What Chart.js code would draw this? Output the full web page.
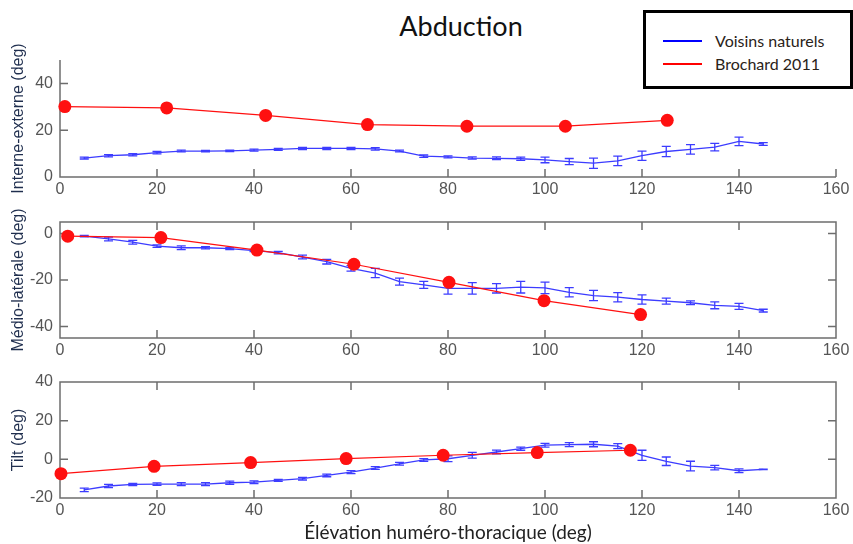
<!DOCTYPE html>
<html lang="fr">
<head>
<meta charset="UTF-8">
<title>Abduction</title>
<script src="https://cdn.jsdelivr.net/npm/chart.js@4"></script>
<style>
  body { margin:0; background:#fff; width:853px; height:544px; position:relative; overflow:hidden; }
  canvas { position:absolute; left:0; }
  #titre { position:absolute; left:361px; top:9px; width:200px; text-align:center; font:27px Lato; color:#111; line-height:34px; }
  #legende { position:absolute; left:643px; top:10px; width:204px; height:73px; border:3px solid #000; background:#fff; font:16px Lato; color:#2a2218; }
  #legende .trait { position:absolute; left:17px; width:39px; height:2px; }
  #legende .txt { position:absolute; left:69px; line-height:20px; }
</style>
</head>
<body>
<div id="titre">Abduction</div>
<canvas id="g1" width="853" height="162" style="top:43px"></canvas>
<canvas id="g2" width="853" height="162" style="top:205px"></canvas>
<canvas id="g3" width="853" height="179" style="top:365px"></canvas>
<div id="legende">
  <div class="trait" style="top:27px;background:#0000ff"></div>
  <div class="txt" style="top:18px">Voisins naturels</div>
  <div class="trait" style="top:50px;background:#ff0000"></div>
  <div class="txt" style="top:41px">Brochard 2011</div>
</div>

<script>
    // élévation huméro-thoracique (deg)
    const elevation = [5, 10, 15, 20, 25, 30, 35, 40, 45, 50, 55, 60, 65, 70, 75, 80, 85, 90, 95, 100, 105, 110, 115, 120, 125, 130, 135, 140, 145];

    // Voisins naturels : moyenne et écart
    const ieMoy = [8.1, 9.1, 9.5, 10.4, 11.1, 11.1, 11.2, 11.5, 11.8, 12.2, 12.2, 12.2, 12.0, 11.1, 8.9, 8.6, 8.1, 8.0, 7.8, 7.3, 6.6, 5.9, 6.9, 9.1, 10.9, 11.8, 12.8, 15.2, 14.1];
    const ieEt = [0.4, 0.5, 0.5, 0.5, 0.4, 0.3, 0.3, 0.4, 0.4, 0.5, 0.5, 0.5, 0.5, 0.4, 0.5, 0.4, 0.5, 0.6, 0.7, 1.2, 1.3, 2.2, 2.0, 2.0, 2.2, 2.0, 1.6, 1.8, 0.6];
    const mlMoy = [-1.1, -2.3, -3.7, -5.4, -6.1, -6.1, -6.5, -7.3, -8.2, -10.1, -12.1, -15.0, -17.0, -20.7, -22.1, -23.6, -23.6, -23.6, -23.1, -23.4, -25.3, -26.7, -27.4, -28.4, -29.1, -29.8, -30.9, -31.4, -33.2];
    const mlEt = [0.3, 0.8, 0.8, 0.5, 0.8, 0.5, 0.4, 0.5, 0.5, 0.8, 1.0, 1.2, 2.0, 1.5, 1.5, 2.5, 2.5, 2.0, 2.5, 2.5, 2.0, 2.2, 2.0, 2.0, 1.3, 0.8, 1.5, 1.3, 0.6];
    const tiltMoy = [-15.8, -13.8, -13.0, -12.8, -12.8, -12.8, -12.1, -11.8, -10.9, -10.0, -8.3, -6.6, -4.5, -2.3, -0.3, 0.3, 2.1, 3.8, 5.5, 7.3, 7.6, 7.8, 6.8, 2.1, -1.0, -3.5, -4.3, -5.9, -5.2];
    const tiltEt = [0.9, 0.8, 0.6, 0.6, 0.8, 0.8, 0.8, 0.7, 0.5, 0.7, 0.7, 0.8, 0.7, 0.7, 0.7, 1.5, 1.5, 1.0, 0.8, 1.0, 1.0, 1.3, 1.3, 2.6, 2.2, 2.5, 1.2, 1.0, 0.1];

    // Brochard 2011
    const brIeX = [1.0, 22.0, 42.4, 63.4, 83.9, 104.2, 125.2];
    const brIeY = [30.1, 29.5, 26.3, 22.4, 21.7, 21.7, 24.2];
    const brMlX = [1.6, 20.8, 40.6, 60.6, 80.2, 99.8, 119.7];
    const brMlY = [-1.1, -1.7, -7.1, -13.2, -21.0, -28.9, -34.9];
    const brTiltX = [0.2, 19.4, 39.3, 59.0, 79.0, 98.4, 117.6];
    const brTiltY = [-7.4, -3.6, -1.7, 0.4, 2.1, 3.5, 4.7];

    // graduations
    const xTicks = [0, 20, 40, 60, 80, 100, 120, 140, 160];
    const ieTicks = [0, 20, 40];
    const mlTicks = [-40, -20, 0];
    const tiltTicks = [-20, 0, 20, 40];

    const gris = '#6d6d6d';
    const bleu = '#3c3cff';
    const rouge = '#ff1010';
    const policeGrad = { family: 'Liberation Sans', size: 16, lineHeight: 1.25 };

    // axes façon matlab : graduations vers l'intérieur
    const cadre = {
        id: 'cadre',
        beforeDatasetsDraw(chart, args, opts) {
            const { ctx, chartArea: a, scales: { x, y } } = chart;
            ctx.save();
            ctx.strokeStyle = gris;
            ctx.lineWidth = 1.5;
            ctx.beginPath();
            if (opts.boite) {
                ctx.rect(a.left, a.top, a.right - a.left, a.bottom - a.top);
            } else {
                ctx.moveTo(a.left, a.top);
                ctx.lineTo(a.left, a.bottom);
                ctx.lineTo(a.right, a.bottom);
            }
            x.ticks.forEach(t => {
                const px = x.getPixelForValue(t.value);
                ctx.moveTo(px, a.bottom); ctx.lineTo(px, a.bottom - 8);
                if (opts.boite) { ctx.moveTo(px, a.top); ctx.lineTo(px, a.top + 8); }
            });
            y.ticks.forEach(t => {
                const py = y.getPixelForValue(t.value);
                ctx.moveTo(a.left, py); ctx.lineTo(a.left + 8, py);
                if (opts.boite) { ctx.moveTo(a.right, py); ctx.lineTo(a.right - 8, py); }
            });
            ctx.stroke();
            ctx.restore();
        }
    };

    const barresErreur = {
        id: 'barresErreur',
        afterDatasetDraw(chart, args) {
            const ds = chart.data.datasets[args.index];
            if (!ds.erreurs) return;
            const { ctx, scales: { x, y } } = chart;
            ctx.save();
            ctx.strokeStyle = ds.borderColor;
            ctx.lineWidth = 1.3;
            ctx.beginPath();
            ds.data.forEach((pt, i) => {
                const px = x.getPixelForValue(pt.x);
                const hi = y.getPixelForValue(pt.y + ds.erreurs[i]);
                const lo = y.getPixelForValue(pt.y - ds.erreurs[i]);
                ctx.moveTo(px, hi); ctx.lineTo(px, lo);
                ctx.moveTo(px - 4.5, hi); ctx.lineTo(px + 4.5, hi);
                ctx.moveTo(px - 4.5, lo); ctx.lineTo(px + 4.5, lo);
            });
            ctx.stroke();
            ctx.restore();
        }
    };

    function sousGraphe(id, moy, et, brX, brY, yMin, yMax, yTicks, yTitre, boite, hauteurX, titreX) {
        new Chart(document.getElementById(id), {
            type: 'line',
            data: {
                datasets: [{
                    label: 'Voisins naturels',
                    data: elevation.map((v, i) => ({ x: v, y: moy[i] })),
                    erreurs: et,
                    borderColor: bleu,
                    borderWidth: 1.3,
                    pointRadius: 0,
                    order: 1
                }, {
                    label: 'Brochard 2011',
                    data: brX.map((v, i) => ({ x: v, y: brY[i] })),
                    borderColor: rouge,
                    borderWidth: 1.2,
                    pointRadius: 6.5,
                    pointBackgroundColor: rouge,
                    pointBorderWidth: 0,
                    clip: false,
                    order: 0
                }]
            },
            options: {
                responsive: false,
                animation: false,
                layout: { padding: { top: 0, right: 17, left: 0, bottom: 0 } },
                plugins: { legend: { display: false }, tooltip: { enabled: false }, cadre: { boite: boite } },
                scales: {
                    x: {
                        type: 'linear', min: 0, max: 160,
                        afterBuildTicks: s => { s.ticks = xTicks.map(v => ({ value: v })); },
                        afterFit: s => { s.height = hauteurX; },
                        grid: { display: false, drawTicks: false },
                        border: { display: false },
                        ticks: { color: '#555', font: policeGrad, padding: 3, maxRotation: 0, autoSkip: false },
                        title: { display: !!titreX, text: titreX || '', color: '#222', font: { family: 'Lato', size: 19 }, padding: { top: 0, bottom: 0 } }
                    },
                    y: {
                        min: yMin, max: yMax,
                        afterBuildTicks: s => { s.ticks = yTicks.map(v => ({ value: v })); },
                        afterFit: s => { s.width = 60; },
                        grid: { display: false, drawTicks: false },
                        border: { display: false },
                        ticks: { color: '#555', font: policeGrad, padding: 7 },
                        title: { display: true, text: yTitre, color: '#1f2e4e', font: { family: 'Liberation Sans', size: 16 }, padding: { top: 9, bottom: 0 } }
                    }
                }
            },
            plugins: [cadre, barresErreur]
        });
    }

    sousGraphe('g1', ieMoy, ieEt, brIeX, brIeY, 0, 50, ieTicks, 'Interne-externe (deg)', false, 28);
    sousGraphe('g2', mlMoy, mlEt, brMlX, brMlY, -45, 5, mlTicks, 'Médio-latérale (deg)', true, 29);
    sousGraphe('g3', tiltMoy, tiltEt, brTiltX, brTiltY, -20, 40, tiltTicks, 'Tilt (deg)', true, 46, 'Élévation huméro-thoracique (deg)');
</script>
</body>
</html>
